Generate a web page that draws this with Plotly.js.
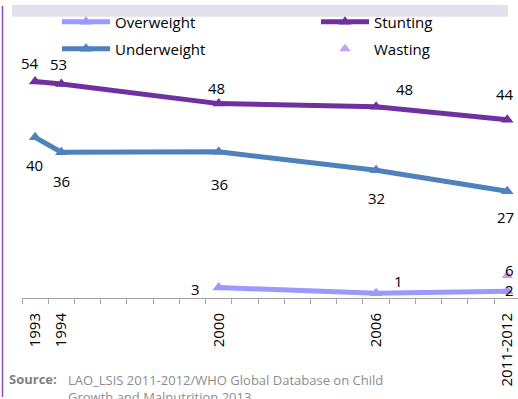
<!DOCTYPE html>
<html>
<head>
<meta charset="utf-8">
<script src="https://cdn.plot.ly/plotly-3.0.1.min.js"></script>
<style>html,body{margin:0;padding:0;background:#fff;}#chart{width:518px;height:399px;}</style>
</head>
<body>
<div id="chart"></div>
<script>
// ---- data ----
const yearLabels = ['1993', '1994', '2000', '2006', '2011-2012'];
const yearPos = [1993, 1994, 2000, 2006, 2011];
const stunting = [53.9, 53.3, 48.4, 47.6, 44.4];
const underweight = [40.0, 36.3, 36.4, 31.8, 26.6];
const overweightYears = [2000, 2006, 2011];
const overweight = [2.6, 1.2, 1.7];
const wastingYears = [2011];
const wasting = [5.6];

// ---- styling / label offsets (px) ----
const W = 518, H = 399;
const FONT = 'Open Sans, Noto Sans, sans-serif';
const stuntOff = [[-5, 19], [-3, 20], [-2, 16], [28, 17.5], [-2, 26]];
const underOff = [[-1, -28], [0, -29], [1, -32], [0, -27.5], [-2, -26]];
const overOff = [[-23, -1], [22, 12], [2, 1]];
const wastOff = [[2, 6]];

function labels(xs, ys, offs) {
  return ys.map((v, i) => ({
    x: xs[i], y: v, xref: 'x', yref: 'y', text: String(Math.round(v)),
    showarrow: false, xshift: offs[i][0], yshift: offs[i][1],
    font: {family: FONT, size: 15, color: '#000'}
  }));
}

const traces = [
  {x: overweightYears, y: overweight, name: 'Overweight', mode: 'lines+markers', legend: 'legend',
   line: {color: '#9999ff', width: 5}, marker: {symbol: 'triangle-up', size: 11, color: '#9999ff'}, cliponaxis: false},
  {x: yearPos, y: stunting, name: 'Stunting', mode: 'lines+markers', legend: 'legend2',
   line: {color: '#7030a0', width: 5}, marker: {symbol: 'triangle-up', size: 11, color: '#7030a0'}, cliponaxis: false},
  {x: yearPos, y: underweight, name: 'Underweight', mode: 'lines+markers', legend: 'legend3',
   line: {color: '#4f81bd', width: 5}, marker: {symbol: 'triangle-up', size: 11, color: '#4f81bd'}, cliponaxis: false},
  {x: wastingYears, y: wasting, name: 'Wasting', mode: 'markers', legend: 'legend4',
   marker: {symbol: 'triangle-up', size: 10, color: '#cc99ff'}, cliponaxis: false}
];

const L = 22, PW = W - L, T = 60, B = 100.5, PH = H - T - B;
const pxX = p => (p - L) / PW;
const pxY = p => (H - B - p) / PH;
const yrPx = 26.23;
const valPx = 4.12;

function leg(xpx, ypx) {
  return {xref: 'container', yref: 'container', x: xpx / W, y: 1 - ypx / H,
          xanchor: 'left', yanchor: 'middle', orientation: 'h', itemwidth: 48,
          bgcolor: 'rgba(0,0,0,0)', borderwidth: 0,
          font: {family: FONT, size: 15, color: '#000'}};
}

const layout = {
  width: W, height: H,
  margin: {l: L, r: 0, t: T, b: B, pad: 0},
  paper_bgcolor: '#fff', plot_bgcolor: '#fff',
  showlegend: true,
  legend: leg(57, 22), legend2: leg(316, 22), legend3: leg(57, 49), legend4: leg(316, 49),
  xaxis: {
    range: [1992.5, 1992.5 + PW / yrPx], fixedrange: true,
    tickmode: 'array', tickvals: yearPos, ticktext: yearLabels, ticks: '',
    tickangle: -90, tickfont: {family: FONT, size: 15, color: '#000'}, ticklabelstandoff: 8,
    showgrid: false, zeroline: false, showline: true, linecolor: '#a6a6a6', linewidth: 1,
    minor: {tickmode: 'linear', tick0: 1992.5, dtick: 1, ticks: 'outside', ticklen: 5, tickcolor: '#a6a6a6', tickwidth: 1, showgrid: false}
  },
  yaxis: {range: [0, PH / valPx], visible: false, fixedrange: true},
  shapes: [
    {type: 'rect', xref: 'paper', yref: 'paper', x0: pxX(12), x1: pxX(508), y0: pxY(10), y1: pxY(-2),
     fillcolor: '#e4dfec', line: {width: 0}, layer: 'below'},
    {type: 'line', xref: 'paper', yref: 'paper', x0: pxX(2.5), x1: pxX(2.5), y0: pxY(400), y1: pxY(-1),
     line: {color: '#8a4cc0', width: 1.5}}
  ],
  annotations: [
    ...labels(yearPos, stunting, stuntOff),
    ...labels(yearPos, underweight, underOff),
    ...labels(overweightYears, overweight, overOff),
    ...labels(wastingYears, wasting, wastOff),
    {xref: 'paper', yref: 'paper', x: pxX(7), y: pxY(382), xanchor: 'left', yanchor: 'middle', showarrow: false,
     text: '<b>Source:</b>', font: {family: FONT, size: 13, color: '#7f7f7f'}},
    {xref: 'paper', yref: 'paper', x: pxX(66), y: pxY(382), xanchor: 'left', yanchor: 'middle', showarrow: false,
     align: 'left', text: 'LAO_LSIS 2011-2012/WHO Global Database on Child<br>Growth and Malnutrition 2013',
     font: {family: FONT, size: 13, color: '#8c8c8c'}, yshift: -9}
  ]
};

Plotly.newPlot('chart', traces, layout, {displayModeBar: false, staticPlot: true});
</script>
</body>
</html>
